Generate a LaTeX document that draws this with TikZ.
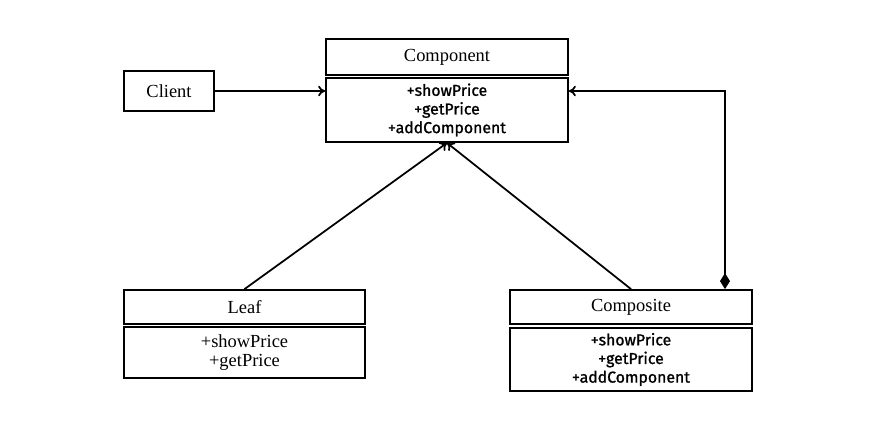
\documentclass[tikz,border=0pt]{standalone}
\usepackage{fontspec}
\setmainfont{Liberation Serif}
\newfontfamily\methfont[FakeBold=1.2]{Fira Sans}
\usepackage{tikz}
\usetikzlibrary{calc}
\usetikzlibrary{arrows.meta}

\tikzset{
  classbox/.style={draw, line width=1pt, rectangle, inner sep=0pt, align=center},
  headbox/.style={classbox, font=\fontsize{10.5}{12}\selectfont},
  methbox/.style={classbox, font=\methfont\fontsize{9}{10.6}\selectfont},
  leafmeth/.style={classbox, font=\fontsize{10.5}{10.6}\selectfont},
  link/.style={line width=1pt, -{To[length=4pt, width=6pt]}},
}

\begin{document}
\begin{tikzpicture}[x=0.02cm, y=-0.02cm]

\useasboundingbox (0, 0) rectangle (889, 442);

\node [headbox, minimum width=90*0.02cm, minimum height=40*0.02cm] (client) at (169, 91) {Client};

\node [headbox, minimum width=242*0.02cm, minimum height=36*0.02cm] (comphead) at (447, 57) {Component};
\node [methbox, minimum width=242*0.02cm, minimum height=64*0.02cm] (compbody) at (447, 110) {+showPrice\\+getPrice\\+addComponent};

\node [headbox, minimum width=241*0.02cm, minimum height=34*0.02cm] (leafhead) at (244.5, 307) {Leaf};
\node [leafmeth, minimum width=241*0.02cm, minimum height=51*0.02cm] (leafbody) at (244.5, 352.5) {+showPrice\\+getPrice};

\node [headbox, minimum width=242*0.02cm, minimum height=34*0.02cm] (comphead2) at (631, 307) {Composite};
\node [methbox, minimum width=242*0.02cm, minimum height=63*0.02cm] (compbody2) at (631, 359.5) {+showPrice\\+getPrice\\+addComponent};

\coordinate (corner) at (725, 91);

\draw [link] (client.east) -- (client.east -| compbody.west);
\draw [link] (leafhead.north) -- (compbody.south);
\draw [link] (comphead2.north) -- (compbody.south);
\draw [line width=1pt, {Diamond[length=16*0.02cm, width=10*0.02cm]}-{To[length=4pt, width=6pt]}] (comphead2.north -| corner) -- (corner) -- (corner -| compbody.east);

\end{tikzpicture}
\end{document}
